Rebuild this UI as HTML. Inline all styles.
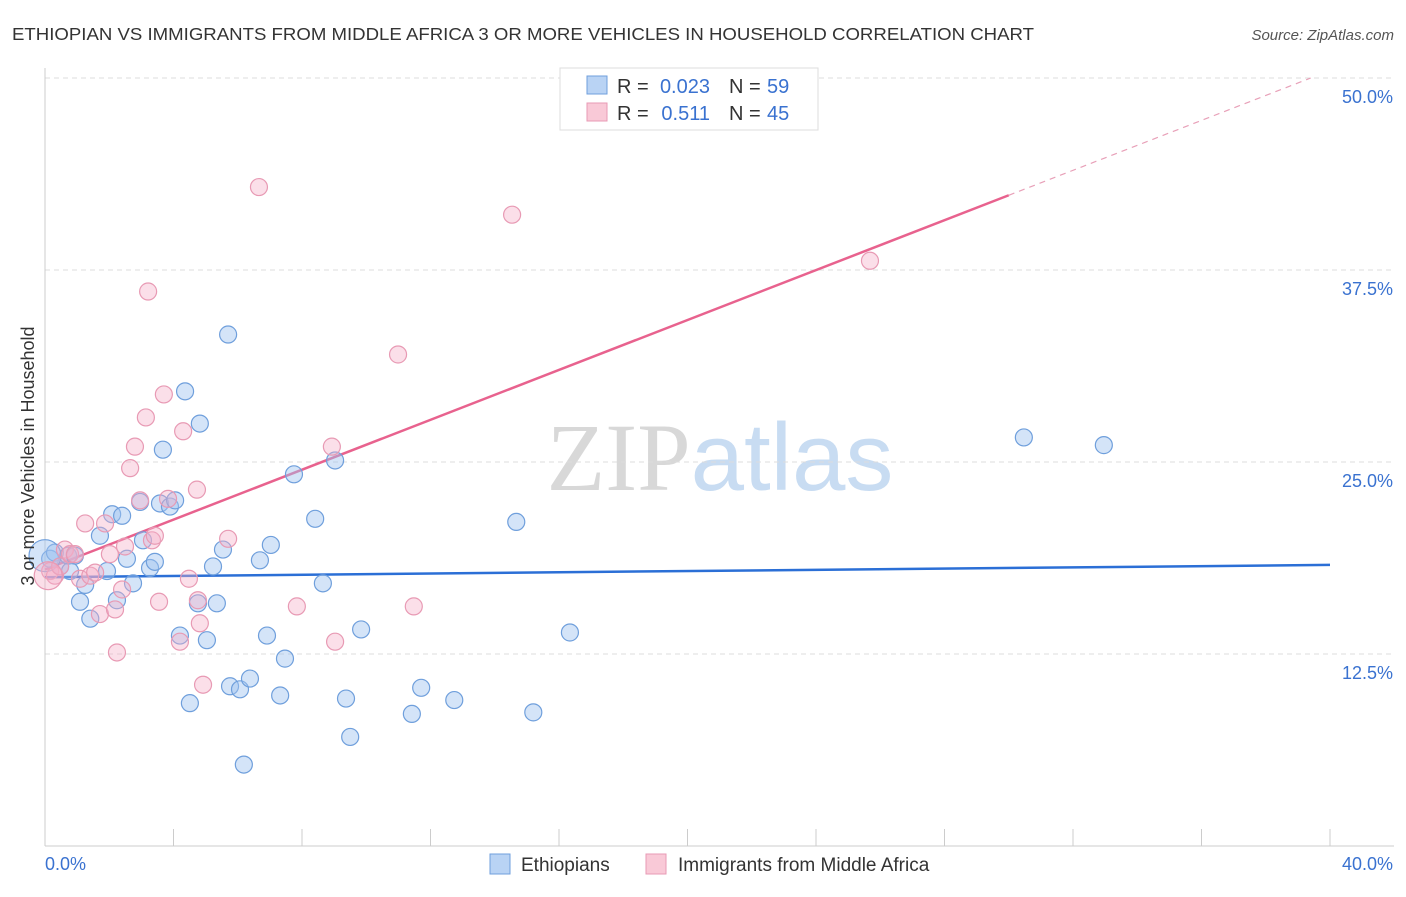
<!DOCTYPE html>
<html><head><meta charset="utf-8">
<style>
body{margin:0;background:#fff;font-family:"Liberation Sans",sans-serif;}
svg text{font-family:"Liberation Sans",sans-serif;}
</style></head>
<body>
<svg id="chart" width="1406" height="892" viewBox="0 0 1406 892">
<text x="12" y="40" font-size="17.5" fill="#333" textLength="1022" lengthAdjust="spacingAndGlyphs">ETHIOPIAN VS IMMIGRANTS FROM MIDDLE AFRICA 3 OR MORE VEHICLES IN HOUSEHOLD CORRELATION CHART</text>
<text x="1394" y="40" font-size="15" fill="#555" text-anchor="end" font-style="italic">Source: ZipAtlas.com</text>
<text x="720" y="490" font-size="96" text-anchor="middle"><tspan fill="#d8d8d8" font-family="Liberation Serif">ZIP</tspan><tspan fill="#c8dcf2">atlas</tspan></text>
<g id="grid"></g>
<g id="axes"></g>
<g id="lines"></g>
<g id="points"></g>
<text transform="translate(34,456) rotate(-90)" font-size="18" fill="#333" text-anchor="middle">3 or more Vehicles in Household</text>
<g>
<rect x="560" y="68" width="258" height="62" fill="#fff" stroke="#ddd"/>
<rect x="587" y="76" width="20" height="18" fill="#b9d3f4" stroke="#6f9fdc"/>
<text x="617" y="93" font-size="20" fill="#333">R =</text>
<text x="710" y="93" font-size="20" fill="#3a72d0" text-anchor="end">0.023</text>
<text x="729" y="93" font-size="20" fill="#333">N =</text>
<text x="767" y="93" font-size="20" fill="#3a72d0">59</text>
<rect x="587" y="103" width="20" height="18" fill="#f9c9d7" stroke="#e89ab4"/>
<text x="617" y="120" font-size="20" fill="#333">R =</text>
<text x="710" y="120" font-size="20" fill="#3a72d0" text-anchor="end">0.511</text>
<text x="729" y="120" font-size="20" fill="#333">N =</text>
<text x="767" y="120" font-size="20" fill="#3a72d0">45</text>
</g>
<g>
<rect x="490" y="854" width="20" height="20" fill="#b9d3f4" stroke="#6f9fdc"/>
<text x="521" y="871" font-size="19" fill="#333">Ethiopians</text>
<rect x="646" y="854" width="20" height="20" fill="#f9c9d7" stroke="#e89ab4"/>
<text x="678" y="871" font-size="19" fill="#333">Immigrants from Middle Africa</text>
</g>
</svg>
<script>
const yTicks=[12.5,25,37.5,50];
const yTickLabels=["12.5%","25.0%","37.5%","50.0%"];
const xTickCount=10;
const blueX=[0.16,0.31,0.47,0.72,0.93,0.78,1.09,1.25,1.41,1.71,1.93,2.09,2.24,2.40,2.55,2.74,2.96,3.05,3.27,3.42,3.58,3.67,3.89,4.05,4.20,4.36,4.51,4.76,4.82,5.04,5.23,5.35,5.54,5.70,5.76,6.07,6.19,6.38,6.69,6.91,7.03,7.32,7.47,7.75,8.41,8.65,9.03,9.37,9.50,9.84,11.42,11.71,12.74,14.67,15.20,16.34,30.47,32.96,0.0];
const blueY=[18.7,19.1,18.2,18.9,18.9,17.9,15.9,17.0,14.8,20.2,17.9,21.6,16.0,21.5,18.7,17.1,22.4,19.9,18.1,18.5,22.3,25.8,22.1,22.5,13.7,29.6,9.3,15.8,27.5,13.4,18.2,15.8,19.3,33.3,10.4,10.2,5.3,10.9,18.6,13.7,19.6,9.8,12.2,24.2,21.3,17.1,25.1,9.6,7.1,14.1,8.6,10.3,9.5,21.1,8.7,13.9,26.6,26.1,18.9];
const pinkX=[0.16,0.31,0.47,0.62,0.78,0.93,1.09,1.25,1.41,1.56,1.71,1.87,2.02,2.18,2.24,2.40,2.49,2.65,2.80,2.96,3.14,3.21,3.33,3.42,3.55,3.70,3.83,4.30,4.48,4.73,4.76,4.82,4.92,5.70,4.20,6.66,7.84,8.93,9.03,10.99,11.48,14.54,25.68,0.1];
const pinkY=[17.9,17.6,18.2,19.3,19.0,19.0,17.4,21.0,17.6,17.8,15.1,21.0,19.0,15.4,12.6,16.7,19.5,24.6,26.0,22.5,27.9,36.1,19.9,20.2,15.9,29.4,22.6,27.0,17.4,23.2,16.0,14.5,10.5,20.0,13.3,42.9,15.6,26.0,13.3,32.0,15.6,41.1,38.1,17.6];
const blueTrend=[17.5,18.3];
const pinkTrend=[18.0,50.0];

const NS="http://www.w3.org/2000/svg";
const X0=45,X1=1330,Y0=846,Ymax=78;
const xs=v=>X0+v/40*(X1-X0);
const ys=v=>Y0-v/50*(Y0-Ymax);
function mk(tag,attrs,parent){const e=document.createElementNS(NS,tag);for(const k in attrs)e.setAttribute(k,attrs[k]);document.getElementById(parent).appendChild(e);return e;}

yTicks.forEach((t,i)=>{
  const g=mk('line',{x1:X0,x2:1394,y1:ys(t),y2:ys(t),stroke:'#ddd','stroke-dasharray':'5,4'},'grid');
  
  
  const tx=mk('text',{x:1393,y:ys(t)+25,'font-size':18,fill:'#3a72d0','text-anchor':'end'},'axes');
  tx.textContent=yTickLabels[i];
  
  
});
const ax=mk('line',{x1:X0,x2:X0,y1:68,y2:Y0,stroke:'#ccc'},'axes');


const bx=mk('line',{x1:X0,x2:1394,y1:Y0,y2:Y0,stroke:'#ccc'},'axes');


for(let i=0;i<=xTickCount;i++){
  const t=mk('line',{x1:xs(i*4),x2:xs(i*4),y1:Y0,y2:829,stroke:'#ccc'},'axes');
  
  
}
const l0=mk('text',{x:45,y:870,'font-size':18,fill:'#3a72d0'},'axes');l0.textContent='0.0%';


const l1=mk('text',{x:1393,y:870,'font-size':18,fill:'#3a72d0','text-anchor':'end'},'axes');l1.textContent='40.0%';



blueX.forEach((x,i)=>{
  const c=mk('circle',{cx:xs(x),cy:ys(blueY[i]),r:i===blueX.length-1?16:8.5,fill:'rgba(160,195,240,0.45)',stroke:'#6f9fdc','stroke-width':1.2},'points');
  
  
});
pinkX.forEach((x,i)=>{
  const c=mk('circle',{cx:xs(x),cy:ys(pinkY[i]),r:i===pinkX.length-1?14:8.5,fill:'rgba(245,175,200,0.4)',stroke:'#e89ab4','stroke-width':1.2},'points');
  
  
});
const bl=mk('line',{x1:xs(0),y1:ys(blueTrend[0]),x2:xs(40),y2:ys(blueTrend[1]),stroke:'#2b6fd6','stroke-width':2.5},'lines');


const px=v=>pinkTrend[0]+(pinkTrend[1]-pinkTrend[0])*v/39.4;
const pl=mk('line',{x1:xs(0),y1:ys(px(0)),x2:xs(30),y2:ys(px(30)),stroke:'#e8628e','stroke-width':2.5},'lines');


const pd=mk('line',{x1:xs(30),y1:ys(px(30)),x2:xs(39.4),y2:ys(px(39.4)),stroke:'#e8a0b8','stroke-width':1.2,'stroke-dasharray':'6,5'},'lines');


</script>
</body></html>
